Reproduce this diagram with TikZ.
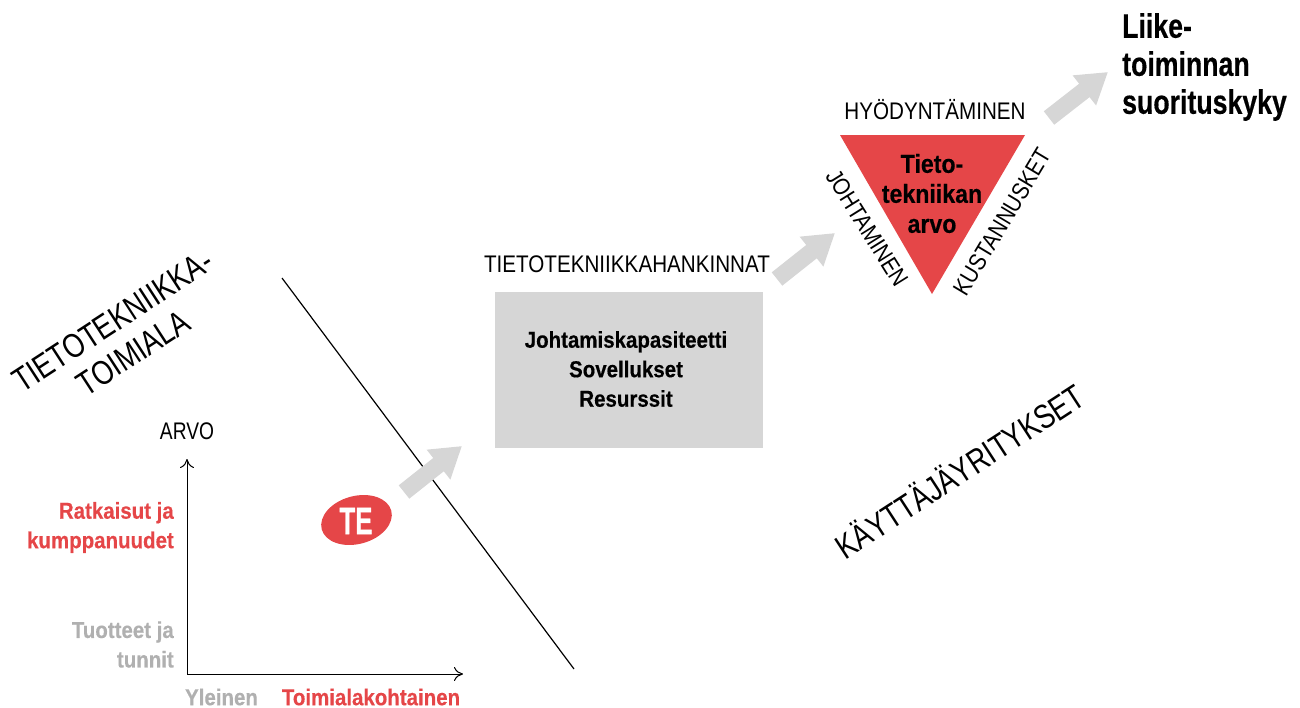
\documentclass[tikz,border=0pt]{standalone}
\usepackage{fontspec}
\setmainfont{Liberation Sans}
\newfontfamily\narrowfont[FakeStretch=0.86]{Liberation Sans}
\newfontfamily\bigfont[FakeStretch=0.8]{Liberation Sans}
\newfontfamily\strongfont[FakeStretch=0.89,BoldFeatures={FakeBold=0.4}]{Liberation Sans}
\newfontfamily\titlefont[FakeStretch=0.785,BoldFeatures={FakeBold=0.4}]{Liberation Sans}
\newfontfamily\logofont[FakeStretch=0.68,BoldFeatures={FakeBold=1}]{Liberation Sans}
\usetikzlibrary{arrows.meta,shapes.geometric}
\definecolor{teRed}{RGB}{229,70,72}
\definecolor{teGray}{RGB}{214,214,214}
\definecolor{teText}{RGB}{176,176,176}
\tikzset{
	plain/.style={inner sep=0pt,font=\narrowfont\fontsize{24}{28}\selectfont},
	big/.style={inner sep=0pt,align=center,font=\bigfont\fontsize{34}{38}\selectfont},
	strong/.style={inner sep=0pt,align=center,font=\strongfont\bfseries\fontsize{23}{29.5}\selectfont},
	axisline/.style={-{To[length=9pt,width=14pt]},line width=1pt},
	flow/.style={line width=17pt,teGray,-{Triangle[length=30pt,width=36pt]}}
}
\begin{document}
\begin{tikzpicture}[x=1pt,y=-1pt]
	\useasboundingbox (0,0) rectangle (1300,707);
	
	% diagonal and axes
	\coordinate (lineTop) at (282,278);
	\coordinate (lineEnd) at (574,669);
	\draw[line width=1.2pt] (lineTop) -- (lineEnd);
	\coordinate (origin) at (187,674);
	\coordinate (yEnd) at (187,459);
	\coordinate (xEnd) at (463,674);
	\draw[axisline] (origin) -- (yEnd);
	\draw[axisline] (origin) -- (xEnd);
	
	\node[plain,font=\bigfont\fontsize{24}{28}\selectfont] (arvo) at (187,431) {ARVO};
	\node[strong,text=teRed,align=right,anchor=east] (ratkaisut) at (174,527.5) {Ratkaisut ja\\kumppanuudet};
	\node[strong,text=teText,align=right,anchor=east] (tuotteet) at (174,644.5) {Tuotteet ja\\tunnit};
	\node[strong,text=teText] (yleinen) at (221.5,697) {Yleinen};
	\node[strong,text=teRed] (toimiala) at (371,697) {Toimialakohtainen};
	
	\node[big,rotate=33] (tietoala) at (123,337) {TIETOTEKNIIKKA-\\TOIMIALA};
	\node[big,rotate=33] (kayttaja) at (959,470) {KÄYTTÄJÄYRITYKSET};
	
	% TE logo
	\node[fill=teRed,ellipse,minimum width=72pt,minimum height=48pt,inner sep=0pt,rotate=15] (logo) at (356.5,520) {};
	\node[inner sep=0pt,text=white,font=\logofont\bfseries\fontsize{38}{38}\selectfont] (logotext) at (356,521) {TE};
	
	% box
	\node[fill=teGray,minimum width=268pt,minimum height=156pt,inner sep=0pt] (kapasiteetti) at (628.5,369.5) {};
	\node[strong] (kaptext) at (626,369) {Johtamiskapasiteetti\\Sovellukset\\Resurssit};
	\node[plain] (hankinnat) at (627,264) {TIETOTEKNIIKKAHANKINNAT};
	
	% triangle
	\coordinate (triA) at (840,135);
	\coordinate (triB) at (1025,135);
	\coordinate (triC) at (932,294);
	\fill[teRed] (triA) -- (triB) -- (triC) -- cycle;
	\node[strong,font=\strongfont\bfseries\fontsize{26}{30}\selectfont] (arvotext) at (932,193.5) {Tieto-\\tekniikan\\arvo};
	\node[plain] (hyody) at (935,110) {HYÖDYNTÄMINEN};
	\node[plain,rotate=-58] (johtaminen) at (867,228) {JOHTAMINEN};
	\node[plain,rotate=59] (kustannukset) at (1002.5,222) {KUSTANNUSKET};
	
	% arrows
	\coordinate (a1) at (404,492);
	\coordinate (a2) at (462,446);
	\draw[flow] (a1) -- (a2);
	\coordinate (b1) at (777,279);
	\coordinate (b2) at (835,233);
	\draw[flow] (b1) -- (b2);
	\coordinate (c1) at (1049,118);
	\coordinate (c2) at (1108,72);
	\draw[flow] (c1) -- (c2);
	
	\node[strong,align=left,anchor=west,font=\titlefont\bfseries\fontsize{34}{38}\selectfont] (suoritus) at (1122,67) {Liike-\\toiminnan\\suorituskyky};
\end{tikzpicture}
\end{document}
